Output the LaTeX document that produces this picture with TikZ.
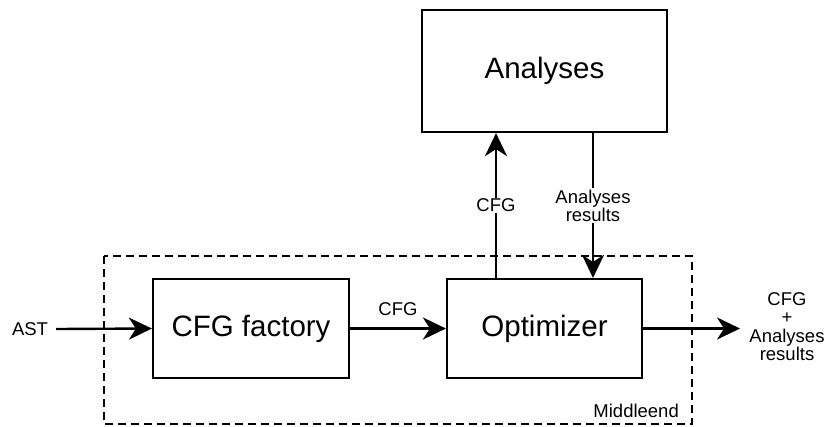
\documentclass[tikz,border=0pt]{standalone}
\usepackage{fontspec}
\setmainfont{Liberation Sans}
\usetikzlibrary{arrows.meta}
\begin{document}
\begin{tikzpicture}[x=1pt,y=-1pt,
  block/.style={draw,line width=2.2pt,minimum width=#1,minimum height=99pt,inner sep=0pt,font=\fontsize{29.5}{34}\selectfont},
  block/.default=196pt,
  lbl/.style={font=\fontsize{18.5}{22}\selectfont,inner sep=1pt,align=center},
  flow/.style={line width=2.4pt,-{Stealth[length=23pt,width=22pt,inset=7pt]}},
  frame/.style={line width=1.7pt,dash pattern=on 8pt off 5pt}]
\useasboundingbox (0,0) rectangle (826,426);
% enclosing middle-end frame
\draw[frame] (104,256) rectangle (692,424);
\node[lbl,anchor=south east] (mid) at (680,419) {Middleend};
% blocks
\node[block=245pt,minimum height=122pt] (ana) at (544.5,71) {Analyses};
\node[block] (fac) at (251,328.5) {CFG factory};
\node[block=195pt] (opt) at (544.5,328.5) {Optimizer};
% external ends
\node[lbl] (ast) at (30,329) {AST};
\coordinate (out) at (740,328.5);
\node[lbl,align=center] (res) at (787,327) {CFG\\[-4pt]+\\[-3pt]Analyses\\[-4pt]results};
% connectors
\draw[flow] (ast.east) ++(7,0) -- (fac.west);
\draw[flow] (fac) -- node[lbl,above=11pt] (l1) {CFG} (opt);
\draw[flow] (opt.north -| 496,0) -- node[lbl,fill=white,pos=0.5] (l2) {CFG} (ana.south -| 496,0);
\draw[flow] (ana.south -| 593,0) -- node[lbl,fill=white,pos=0.5,inner sep=2pt] (l3) {Analyses\\[-4pt]results} (opt.north -| 593,0);
\draw[flow] (opt) -- (out);
\end{tikzpicture}
\end{document}
